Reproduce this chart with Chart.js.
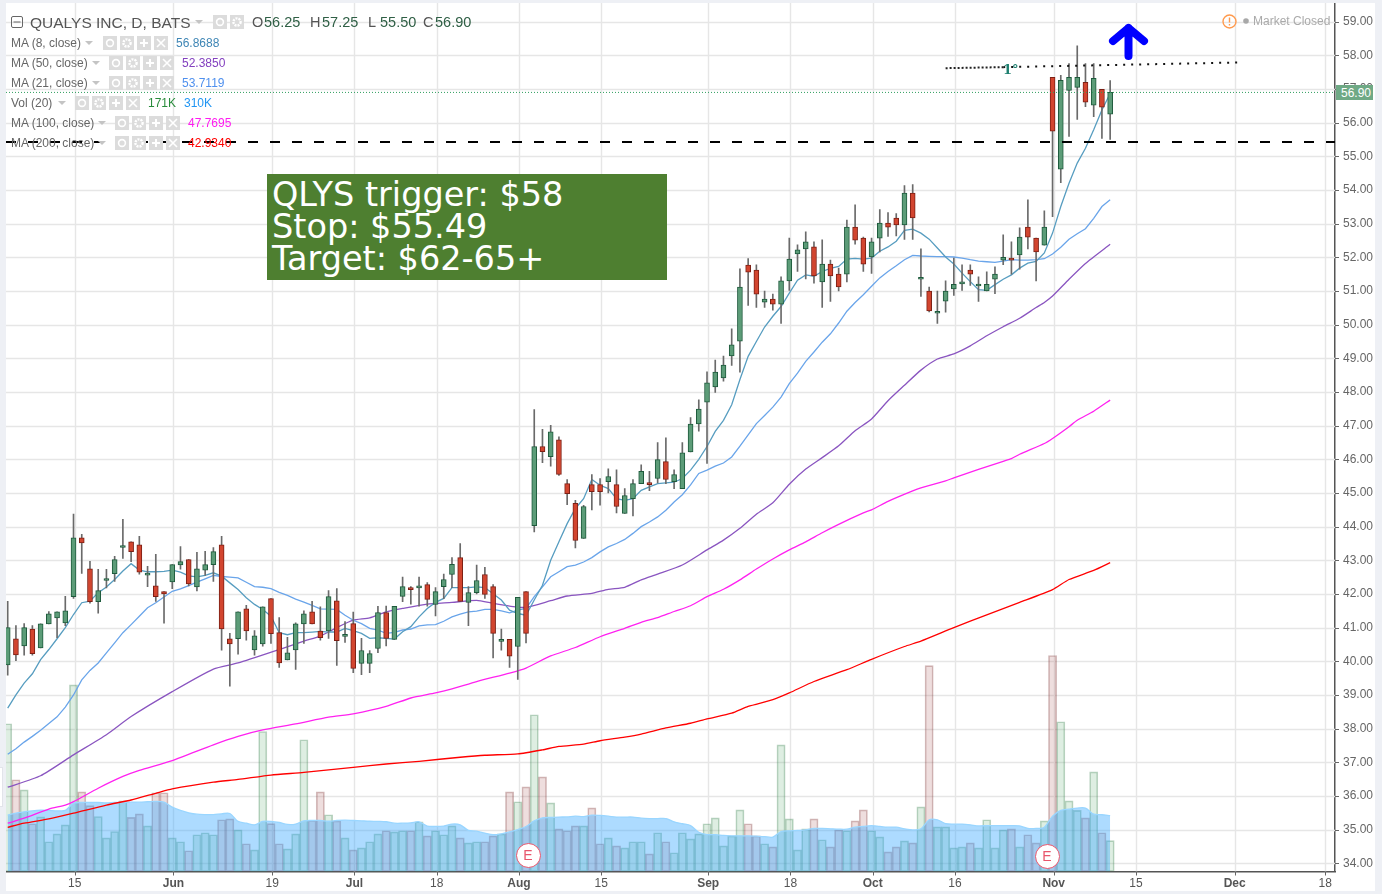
<!DOCTYPE html>
<html lang="en">
<head>
<meta charset="UTF-8" />
<title>QUALYS INC, D, BATS</title>
<script src="https://cdn.jsdelivr.net/npm/chart.js"></script>
<style>
  html, body { margin: 0; padding: 0; background: #eef0f5; overflow: hidden; }
  body { width: 1382px; height: 894px; position: relative; font-family: "Liberation Sans", Arial, sans-serif; }
  #wrap { position: absolute; left: 6px; top: 3px; width: 1369px; height: 888px; background: #fff; }
  canvas { display: block; }
  .t { position: absolute; white-space: nowrap; line-height: 1; }
  .box { position: absolute; }
  .box svg { display: block; }
  #note {
    position: absolute; left: 267px; top: 174px; width: 395px; height: 101px; padding: 5px 0 0 5px;
    background: #4e7f30; color: #fff; font-family: "DejaVu Sans", sans-serif; font-size: 33.5px; line-height: 32px;
  }
  .badge {
    position: absolute; width: 23px; height: 23px; border-radius: 50%; background: #fff; border: 1.5px solid #e8566c;
    color: #e8566c; font-size: 14px; line-height: 23px; text-align: center;
  }
</style>
</head>
<body>
<div id="wrap"><canvas id="chart" width="1369" height="888"></canvas></div>
<div id="overlay"></div>
<div id="note">QLYS trigger: $58<br>Stop: $55.49<br>Target: $62-65+</div>
<div class="badge" style="left:515.5px;top:842.5px">E</div>
<div class="badge" style="left:1034.5px;top:843.5px">E</div>
<svg style="position:absolute;left:1100px;top:15px" width="60" height="52">
  <path d="M13 26 L28.5 13 L44 26 M28.5 13 L28.5 41" fill="none" stroke="#0000ff" stroke-width="8" stroke-linejoin="round" stroke-linecap="round"/>
</svg>
<script>
// bars are one trading day each, May 3 to Nov 10
const opens = [
  39.89,40.67,40.46,40.96,40.4,41.11,41.29,41.14,41.92,43.67,
  42.75,41.77,42.40,42.6,43.38,43.55,43.46,42.56,42.24,42.07,
  42.36,42.86,43.02,42.21,42.71,42.87,43.46,40.67,40.67,41.56,
  40.34,40.52,41.86,40.85,40.04,40.34,41.11,41.47,40.9,40.9,
  41.8,40.74,41.12,39.94,39.94,40.38,41.45,40.65,41.93,42.19,
  42.18,42.28,41.69,42.22,42.58,43.08,41.75,42.04,42.58,42.22,
  40.59,40.65,40.44,42.07,44.03,46.38,46.08,46.58,45.28,44.69,
  43.65,45.25,45.25,45.34,45.25,44.39,44.83,45.28,45.28,45.43,
  45.93,45.34,45.13,46.22,47.05,47.7,48.15,48.42,49.07,49.51,
  51.77,51.62,50.67,50.76,50.61,51.3,52.1,52.25,52.31,51.27,
  51.8,51.5,51.5,52.9,52.57,52.01,52.57,53.02,53.17,52.96,
  53.91,51.35,51.0,50.34,50.7,51.06,51.21,51.62,51.15,51.0,
  51.35,51.92,51.95,52.07,52.9,52.57,52.36,57.35,54.62,56.96,
  57.05,57.2,56.52,56.99,56.25
];
const closes = [
  41.0,40.19,41.0,40.23,41.11,41.41,41.47,41.5,43.67,43.52,
  41.77,42.1,42.43,43.02,43.41,43.26,42.65,42.58,41.92,42.0,
  42.87,42.96,42.3,42.75,42.87,43.26,40.96,40.52,41.47,40.9,
  40.76,41.62,40.82,39.95,40.25,41.11,41.41,41.11,40.7,41.92,
  40.61,40.8,39.79,40.32,40.23,41.45,40.68,41.63,42.22,42.13,
  42.21,41.84,42.07,42.43,42.88,41.78,42.04,42.4,41.99,40.83,
  40.65,40.15,41.9,40.83,46.38,46.23,46.82,45.55,44.98,43.59,
  44.6,45.04,45.04,45.49,44.6,44.92,45.28,45.64,45.25,45.99,
  45.4,45.55,46.19,47.05,47.49,48.27,48.59,48.8,49.4,51.12,
  51.56,50.91,50.76,50.61,51.3,51.95,52.22,52.46,51.45,51.8,
  51.45,51.12,52.9,52.51,51.8,52.46,53.02,52.9,52.96,53.91,
  53.17,51.37,50.41,50.36,51.0,51.2,51.27,51.5,51.2,51.2,
  51.5,52.0,51.92,52.6,52.6,52.16,52.9,55.75,57.26,57.35,
  57.35,56.61,57.32,56.46,56.9
];
const highs = [
  41.78,41.06,41.12,41.06,41.11,41.48,41.47,41.93,44.37,43.77,
  42.97,42.73,42.73,43.12,44.22,43.55,43.71,42.82,43.18,42.07,
  42.87,43.41,43.02,43.24,43.27,43.38,43.71,40.83,41.47,41.66,
  40.91,41.62,41.86,41.3,40.71,41.14,41.5,41.78,41.62,42.1,
  42.16,41.18,41.46,40.68,40.32,41.63,41.64,41.63,42.5,42.22,
  42.5,42.34,42.19,42.59,43.08,43.5,42.22,42.86,42.79,42.28,
  40.96,40.65,41.9,42.07,47.48,46.89,47.01,46.67,45.4,44.78,
  44.63,45.55,45.43,45.72,45.69,45.13,45.4,45.84,45.64,46.5,
  46.64,45.69,46.5,47.24,47.77,48.6,48.95,49.07,49.88,51.66,
  51.96,51.78,51.0,50.91,51.42,52.57,52.37,52.76,52.46,52.52,
  51.92,51.68,53.11,53.56,52.6,52.57,53.42,53.33,53.3,54.13,
  54.16,52.25,51.12,51.0,51.3,51.98,51.78,51.78,51.42,51.57,
  51.72,52.67,52.46,52.88,53.71,52.57,53.38,57.35,57.41,57.76,
  58.28,57.76,57.76,56.99,57.25
];
const lows = [
  39.59,40.02,40.18,40.18,40.4,41.11,40.7,41.06,41.87,42.61,
  41.73,41.43,42.18,42.37,43.06,42.96,42.59,42.22,41.78,41.13,
  42.16,42.74,42.24,42.09,42.55,42.37,40.33,39.26,40.21,40.63,
  40.18,40.45,40.53,39.82,40.04,39.76,40.53,41.11,40.63,40.68,
  39.88,40.56,39.66,39.6,39.66,40.26,40.46,40.65,41.77,41.7,
  41.64,41.64,41.35,41.86,42.19,41.78,41.06,42.0,41.87,40.1,
  40.33,39.82,39.46,40.55,43.84,45.9,45.8,45.52,44.65,43.37,
  43.65,44.5,44.64,45.0,44.41,44.39,44.32,45.28,45.07,45.3,
  45.28,45.13,45.13,46.22,46.84,45.88,47.99,48.32,48.79,48.59,
  50.57,50.51,50.51,50.43,50.04,51.02,51.58,51.36,51.23,50.51,
  50.69,51.0,51.27,52.39,51.58,51.52,52.16,52.62,52.64,52.53,
  52.53,50.84,50.38,50.04,50.37,50.87,51.02,51.17,50.69,51.0,
  50.92,51.78,51.5,51.65,52.25,51.3,52.36,53.21,54.22,55.59,
  56.1,56.48,56.18,55.53,55.5
];
// thousands of shares
const volumes = [
  820,509,453,265,303,165,209,259,1036,442,
  366,305,187,222,392,300,320,253,437,437,
  187,165,115,204,215,204,287,292,231,154,
  120,777,266,154,126,209,731,283,442,315,
  281,187,120,131,165,209,226,220,226,226,
  276,198,226,204,253,187,159,165,165,198,
  209,442,387,470,870,525,381,237,226,253,
  253,353,154,187,142,131,165,165,98,215,
  165,104,215,181,209,265,298,142,198,342,
  265,198,154,137,703,292,120,237,292,176,
  137,231,226,281,342,226,192,109,137,170,
  159,359,1143,248,248,131,137,159,131,287,
  131,231,237,137,204,159,281,1199,831,392,
  339,298,553,215,171
];
const volMa = [
  313,324,331,337,340,339,337,339,379,383,
  383,383,381,383,383,385,385,387,389,385,
  357,339,326,318,316,316,320,322,278,268,
  259,278,278,272,261,263,281,283,283,279,
  283,285,283,281,279,278,276,268,268,270,
  276,252,250,252,263,259,228,224,213,204,
  209,220,233,250,281,298,300,302,303,307,
  305,313,311,307,302,302,302,296,294,294,
  294,276,265,255,218,205,205,200,198,198,
  198,196,194,191,222,226,228,231,239,239,
  237,235,235,246,250,255,250,246,246,237,
  231,237,287,287,266,263,263,259,253,255,
  255,255,255,253,239,239,246,307,339,346,
  352,352,318,315,310
];
const ma8 = [
  38.61,39.0,39.35,39.63,40.05,40.35,40.67,41.0,41.39,41.74,
  41.79,42.04,42.21,42.43,42.68,42.9,42.71,42.66,42.66,42.67,
  42.71,42.65,42.54,42.51,42.55,42.63,42.53,42.33,42.13,41.89,
  41.69,41.54,41.34,40.85,40.79,40.85,40.85,40.87,40.89,40.87,
  40.87,40.98,40.91,40.83,40.68,40.7,40.68,40.66,40.88,41.03,
  41.32,41.57,41.75,41.87,42.19,42.19,42.19,42.21,42.19,42.01,
  41.82,41.52,41.42,41.37,41.82,42.26,43.0,43.55,44.09,44.54,
  44.83,45.4,45.23,45.13,44.83,44.78,44.83,45.08,45.18,45.28,
  45.3,45.32,45.43,45.68,46.0,46.38,46.83,47.16,47.62,48.37,
  49.06,49.5,49.93,50.25,50.54,50.94,51.32,51.48,51.44,51.58,
  51.67,51.73,51.95,51.97,51.95,51.98,52.18,52.31,52.48,52.8,
  52.84,52.72,52.54,52.28,52.01,51.8,51.53,51.28,51.04,51.02,
  51.19,51.35,51.48,51.68,51.83,51.88,52.13,52.72,53.51,54.2,
  54.8,55.24,55.79,56.38,56.87
];
const ma21 = [
  37.24,37.4,37.6,37.77,37.95,38.15,38.35,38.64,39.0,39.45,
  39.73,39.95,40.25,40.55,40.85,41.09,41.34,41.59,41.74,41.91,
  42.08,42.15,42.25,42.35,42.45,42.55,42.52,42.5,42.48,42.35,
  42.22,42.2,42.16,42.05,41.96,41.85,41.76,41.66,41.56,41.55,
  41.54,41.37,41.22,41.12,40.98,40.93,40.83,40.86,40.93,40.96,
  41.05,41.08,41.09,41.19,41.32,41.4,41.47,41.49,41.54,41.54,
  41.5,41.44,41.52,41.57,41.92,42.21,42.51,42.66,42.81,42.86,
  42.95,43.08,43.25,43.4,43.5,43.62,43.8,44.0,44.14,44.29,
  44.49,44.73,44.95,45.24,45.58,45.68,45.8,45.89,46.07,46.39,
  46.73,47.06,47.3,47.55,47.85,48.25,48.56,48.91,49.19,49.48,
  49.73,50.05,50.4,50.66,50.89,51.14,51.39,51.58,51.75,51.93,
  52.06,52.04,52.03,52.02,52.02,52.01,51.98,51.93,51.89,51.87,
  51.85,51.89,51.93,51.92,51.92,51.93,51.96,52.1,52.3,52.54,
  52.7,52.85,53.16,53.51,53.71
];
// slower averages are read at fewer bars
const ma50Days = [0,4,8,12,15,20,25,28,33,36,38,40,42,44,46,48,51,54,57,59,61,63,66,68,71,73,75,77,79,82,85,87,89,91,93,95,97,99,101,103,105,107,109,111,113,115,117,119,121,123,125,126,127,129,131,134];
const ma50 = [36.26,36.6,37.22,37.82,38.36,39.1,39.77,39.95,40.35,40.6,40.75,41.0,41.22,41.29,41.47,41.57,41.7,41.75,41.81,41.72,41.64,41.6,41.8,41.94,42.02,42.14,42.2,42.42,42.59,42.86,43.31,43.6,43.95,44.37,44.71,45.26,45.71,46.05,46.4,46.85,47.2,47.74,48.2,48.65,48.98,49.13,49.37,49.67,49.94,50.19,50.51,50.66,50.85,51.35,51.82,52.39];
const ma100Days = [0,2,5,7,8,11,14,16,20,25,28,31,35,39,42,46,49,52,54,57,61,63,66,69,72,75,77,79,81,83,85,87,89,91,93,95,97,99,101,104,105,107,110,111,114,115,118,121,122,123,126,127,129,130,132,134];
const ma100 = [35.19,35.34,35.61,35.73,35.83,36.23,36.58,36.76,37.05,37.52,37.77,37.96,38.14,38.34,38.44,38.66,38.91,39.06,39.18,39.4,39.65,39.8,40.16,40.41,40.73,40.98,41.16,41.3,41.48,41.65,41.92,42.14,42.42,42.74,43.04,43.31,43.55,43.82,44.07,44.41,44.5,44.75,45.06,45.15,45.36,45.45,45.7,45.94,46.02,46.15,46.47,46.62,46.97,47.16,47.43,47.76];
const ma200Days = [0,2,5,8,12,15,18,20,25,28,32,36,42,46,50,55,58,62,65,67,70,72,75,77,80,83,85,88,90,93,95,98,102,105,109,111,115,119,123,127,129,132,134];
const ma200 = [35.07,35.19,35.32,35.49,35.73,35.88,36.08,36.21,36.41,36.49,36.62,36.7,36.85,36.95,37.03,37.15,37.21,37.25,37.37,37.47,37.54,37.64,37.75,37.84,38.02,38.16,38.29,38.46,38.66,38.86,39.06,39.4,39.75,40.06,40.44,40.6,41.0,41.38,41.75,42.13,42.43,42.7,42.93];

const stopLevel = 55.43;
const lastClose = 56.9;
const trendDays = [114, 121, 149.8];
const trendValues = [57.62, 57.65, 57.79];

const yTicks = [34,35,36,37,38,39,40,41,42,43,44,45,46,47,48,49,50,51,52,53,54,55,56,57,58,59];
const xTickDays = [8,20,32,42,52,62,72,85,95,105,115,127,137,149,160];
const xTickLabels = ['15','Jun','19','Jul','18','Aug','15','Sep','18','Oct','16','Nov','15','Dec','18'];

const xMin = -0.207, xMax = 161.33;

const GREEN = '#5c9c78', GREEN_EDGE = '#1e5a3c', RED = '#d2452f', RED_EDGE = '#7c1f14';
const isUp = opens.map((o, i) => closes[i] >= o);
const days = opens.map((_, i) => i);
const toXY = (xs, ys) => xs.map((x, i) => ({ x: x, y: ys[i] }));

function lineSet(data, color, order, extra) {
  return Object.assign({
    type: 'line', data: data, borderColor: color, borderWidth: 1.3, pointRadius: 0,
    tension: 0, order: order, yAxisID: 'y'
  }, extra || {});
}

const gridPlugin = {
  id: 'gridPlugin',
  beforeDatasetsDraw(chart) {
    const { ctx, chartArea: a, scales: { x, y } } = chart;
    ctx.save();
    ctx.lineWidth = 1.4;
    ctx.strokeStyle = '#e6e6e6';
    ctx.beginPath();
    xTickDays.forEach(d => {
      const px = Math.round(x.getPixelForValue(d + 0.14)) + 0.5;
      ctx.moveTo(px, a.top);
      ctx.lineTo(px, a.bottom);
    });
    yTicks.forEach(v => {
      const py = Math.round(y.getPixelForValue(v)) + 0.5;
      ctx.moveTo(a.left, py);
      ctx.lineTo(a.right, py);
    });
    ctx.stroke();
    ctx.lineWidth = 1;
    ctx.strokeStyle = '#666';
    ctx.beginPath();
    xTickDays.forEach(d => {
      const px = Math.round(x.getPixelForValue(d + 0.14)) + 0.5;
      ctx.moveTo(px, a.bottom);
      ctx.lineTo(px, a.bottom + 4);
    });
    yTicks.forEach(v => {
      const py = Math.round(y.getPixelForValue(v)) + 0.5;
      ctx.moveTo(a.right, py);
      ctx.lineTo(a.right + 4, py);
    });
    ctx.stroke();
    ctx.restore();
  }
};

new Chart(document.getElementById('chart'), {
  type: 'bar',
  plugins: [gridPlugin],
  data: {
    datasets: [
      {
        data: toXY(days, volumes), yAxisID: 'yVol', order: 20, grouped: false, barThickness: 8.2,
        backgroundColor: isUp.map(u => u ? 'rgba(90,170,110,0.2)' : 'rgba(170,90,90,0.2)'),
        borderColor: isUp.map(u => u ? 'rgba(60,130,80,0.35)' : 'rgba(130,60,60,0.35)'),
        borderWidth: 1, borderSkipped: false
      },
      lineSet(toXY(days, volMa), '#9ad6ff', 19, {
        yAxisID: 'yVol', fill: 'origin', backgroundColor: 'rgba(60,170,255,0.42)', tension: 0.3
      }),
      lineSet(toXY(ma200Days, ma200), '#ff0000', 10, { borderWidth: 1.3, tension: 0.2 }),
      lineSet(toXY(ma100Days, ma100), '#ff22f0', 9, { borderWidth: 1.3, tension: 0.2 }),
      lineSet(toXY(ma50Days, ma50), '#8a55c0', 8, { tension: 0.2 }),
      lineSet(toXY(days, ma21), '#6aa5ea', 7),
      lineSet(toXY(days, ma8), '#579dc0', 6),
      {
        data: days.map(i => ({ x: i, y: [lows[i], highs[i]] })), yAxisID: 'y', order: 5, grouped: false,
        barThickness: 1, backgroundColor: '#6a6a6a', borderWidth: 0
      },
      {
        data: days.map(i => ({ x: i, y: [opens[i], closes[i]] })), yAxisID: 'y', order: 4, grouped: false,
        barThickness: 5, backgroundColor: isUp.map(u => u ? GREEN : RED),
        borderColor: isUp.map(u => u ? GREEN_EDGE : RED_EDGE), borderWidth: 1, borderSkipped: false, minBarLength: 2
      },
      lineSet(toXY([xMin, xMax], [lastClose, lastClose]), '#2e9e5e', 3, { borderWidth: 1, borderDash: [1, 2] }),
      lineSet(toXY([xMin, xMax], [stopLevel, stopLevel]), '#000', 2, { borderWidth: 2, borderDash: [10, 12] }),
      lineSet(toXY(trendDays.slice(0, 2), trendValues.slice(0, 2)), '#222', 1, { borderWidth: 2, borderDash: [2, 2] }),
      lineSet(toXY(trendDays.slice(1), trendValues.slice(1)), '#111', 1, { borderWidth: 2, borderDash: [2, 6] })
    ]
  },
  options: {
    responsive: false,
    animation: false,
    events: [],
    layout: { padding: 0 },
    plugins: { legend: { display: false }, tooltip: { enabled: false } },
    scales: {
      x: {
        type: 'linear', min: xMin, max: xMax, offset: false,
        afterBuildTicks: s => { s.ticks = xTickDays.map(d => ({ value: d + 0.14 })); },
        afterFit: s => { s.height = 19.5; s.paddingLeft = 0; s.paddingRight = 0; },
        grid: { display: false, tickLength: 5 },
        border: { color: '#555', width: 1.5 },
        ticks: {
          autoSkip: false, maxRotation: 0, padding: 0, color: '#555',
          callback: (v, i) => xTickLabels[i],
          font: ctx => ({ family: '"Liberation Sans", Arial, sans-serif', size: 12,
            weight: isNaN(xTickLabels[ctx.index]) ? 'bold' : 'normal' })
        }
      },
      y: {
        position: 'right', min: 33.756, max: 59.556,
        afterBuildTicks: s => { s.ticks = yTicks.map(v => ({ value: v })); },
        afterFit: s => { s.width = 40; s.paddingTop = 0; s.paddingBottom = 0; },
        grid: { display: false, tickLength: 8 },
        border: { color: '#555', width: 1.5 },
        ticks: {
          padding: 0, color: '#666', font: { family: '"Liberation Sans", Arial, sans-serif', size: 12 },
          callback: v => v.toFixed(2)
        }
      },
      yVol: { display: false, min: 0, max: 4820 }
    }
  }
});

// chart header: legend rows, status text, last price tag
const overlay = document.getElementById('overlay');
function addText(x, y, text, size, color, bold) {
  const el = document.createElement('span');
  el.className = 't';
  el.textContent = text;
  el.style.cssText = `left:${x}px;top:${y}px;font-size:${size}px;color:${color};${bold ? 'font-weight:bold;' : ''}`;
  overlay.appendChild(el);
}
function addHtml(x, y, w, h, svg) {
  const el = document.createElement('div');
  el.className = 'box';
  el.style.cssText = `left:${x}px;top:${y}px;width:${w}px;height:${h}px;`;
  el.innerHTML = svg;
  overlay.appendChild(el);
}
const glyphs = [
  '<circle cx="7" cy="7" r="3.4" fill="none" stroke="#fff" stroke-width="1.6"/>',
  '<circle cx="7" cy="7" r="3.6" fill="none" stroke="#fff" stroke-width="2.4" stroke-dasharray="2 1"/>',
  '<path d="M7 3V11M3 7H11" stroke="#fff" stroke-width="2"/>',
  '<path d="M3 3L11 11M11 3L3 11" stroke="#fff" stroke-width="1.6"/>'
];
function addIcons(x, y, count) {
  for (let k = 0; k < count; k++) {
    addHtml(x + k * 17, y, 14, 14, `<svg width="14" height="14"><rect width="14" height="14" fill="#dcdcdc"/>${glyphs[k]}</svg>`);
  }
}
function addCaret(x, y) {
  addHtml(x, y, 8, 5, '<svg width="8" height="5"><path d="M0 0H8L4 4Z" fill="#c4c4c4"/></svg>');
}

addHtml(11, 16, 12, 12, '<svg width="12" height="12"><rect x=".5" y=".5" width="11" height="11" rx="1.5" fill="none" stroke="#666"/><path d="M2.5 6H9.5" stroke="#666"/></svg>');
addText(30, 15, 'QUALYS INC, D, BATS', 15.5, '#555');
addCaret(195, 20);
addIcons(213, 15, 2);
const quoteLetters = ['O', 'H', 'L', 'C'];
const quoteValues = ['56.25', '57.25', '55.50', '56.90'];
const quoteX = [252, 310, 368, 423];
quoteLetters.forEach((q, i) => {
  addText(quoteX[i], 15, q, 14.5, '#555');
  addText(quoteX[i] + 12, 15, quoteValues[i], 14.5, '#2f5f45');
});

const rowNames = ['MA (8, close)', 'MA (50, close)', 'MA (21, close)', 'Vol (20)', 'MA (100, close)', 'MA (200, close)'];
const rowCaretX = [85, 92, 92, 58, 98, 98];
const rowIconX = [103, 109, 109, 75, 115, 115];
const rowValues = ['56.8688', '52.3850', '53.7119', '171K', '47.7695', '42.9340'];
const rowValueX = [176, 182, 182, 148, 188, 188];
const rowColors = ['#3f86b5', '#8340bf', '#4f90ee', '#2a8c3c', '#ff1cf0', '#ff0000'];
rowNames.forEach((name, i) => {
  const y = 37 + i * 20;
  addText(11, y, name, 12, '#666');
  addCaret(rowCaretX[i], y + 4);
  addIcons(rowIconX[i], y - 1, 4);
  addText(rowValueX[i], y, rowValues[i], 12, rowColors[i]);
});
addText(184, 97, '310K', 12, '#2196f3');

addHtml(1222, 14, 15, 15, '<svg width="15" height="15"><circle cx="7.5" cy="7.5" r="6.5" fill="none" stroke="#ff9a4d" stroke-width="1.4"/><path d="M7.5 3.5V8.5M7.5 10V11.5" stroke="#ff9a4d" stroke-width="1.4"/></svg>');
addHtml(1243, 18, 6, 6, '<svg width="6" height="6"><circle cx="3" cy="3" r="2.8" fill="#a8a8a8"/></svg>');
addText(1253, 15, 'Market Closed', 12, '#aaa');

addHtml(1336, 85, 37, 15, '<div style="width:37px;height:15px;background:#6fa985"></div>');
addText(1341, 87, '56.90', 12, '#fff');
addText(1003, 63, '1°', 13, '#1e8070', true);
overlay.lastChild.style.fontFamily = '"DejaVu Serif", serif';
addHtml(0, 767, 3, 40, '<div style="width:3px;height:40px;background:#fff;border:1px solid #e2e4ea;border-left:0;box-sizing:border-box"></div>');
</script>
</body>
</html>
